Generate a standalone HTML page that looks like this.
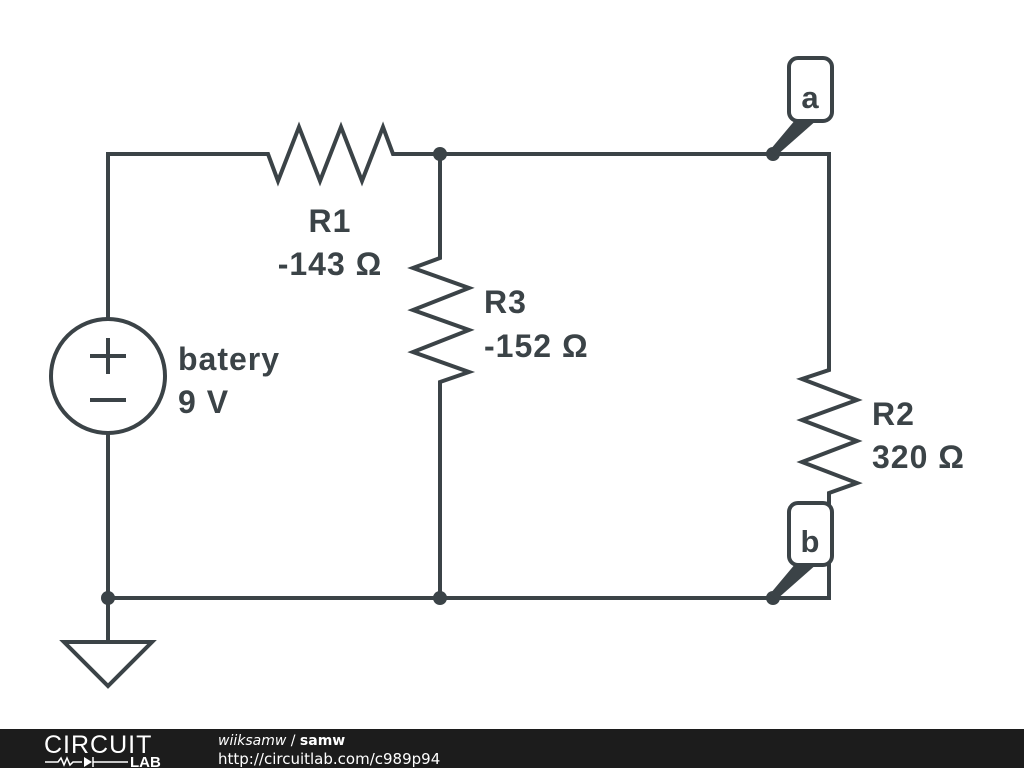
<!DOCTYPE html>
<html><head><style>
html,body{margin:0;padding:0;background:#fff;width:1024px;height:768px;overflow:hidden}
svg{display:block}
text{font-family:"Liberation Sans",sans-serif;font-weight:bold;fill:#3b4347}
.l{font-size:32px;letter-spacing:1px}
</style></head><body>
<svg width="1024" height="768" viewBox="0 0 1024 768">
<g stroke="#3b4347" stroke-width="4" fill="none" stroke-linejoin="miter">
<polyline points="108,318 108,154 268,154 278,181 299,127 320,181 341,127 362,181 383,127 393,154 829,154 829,370 802,379 857,400 802,420 857,441 802,462 857,483 829,493 829,598 108,598 108,434"/>
<polyline points="440,154 440,258 413,268 469,288 413,310 469,330 413,352 469,372 440,382 440,598"/>
<circle cx="108" cy="376" r="57"/>
<line x1="90" y1="356" x2="126" y2="356"/><line x1="108" y1="338" x2="108" y2="374"/>
<line x1="90" y1="400" x2="126" y2="400"/>
<polyline points="108,598 108,642"/>
<polygon points="64,642 152,642 108,686"/>
</g>
<g stroke="#3b4347" stroke-width="4" fill="#fff">
<rect x="789" y="58" width="43" height="63" rx="9"/>
<rect x="789" y="503" width="43" height="62" rx="9"/>
</g>
<g fill="#3b4347">
<circle cx="440" cy="154" r="7"/><circle cx="773" cy="154" r="7"/>
<circle cx="108" cy="598" r="7"/><circle cx="440" cy="598" r="7"/><circle cx="773" cy="598" r="7"/>
<polygon points="796,119 818,119 776,156 770,150"/>
<polygon points="796,563 818,563 776,600 770,594"/>
</g>
<text x="810" y="108" font-size="31" text-anchor="middle">a</text>
<text x="810" y="552" font-size="31" text-anchor="middle">b</text>
<text class="l" x="330" y="232" text-anchor="middle">R1</text>
<text class="l" x="330" y="275" text-anchor="middle">-143 Ω</text>
<text class="l" x="484" y="313">R3</text>
<text class="l" x="484" y="357">-152 Ω</text>
<text class="l" x="178" y="370">batery</text>
<text class="l" x="178" y="413">9 V</text>
<text class="l" x="872" y="425">R2</text>
<text class="l" x="872" y="468">320 Ω</text>
<rect x="0" y="729" width="1024" height="39" fill="#1c1c1c"/>
<text x="44" y="753" font-size="25" style="font-weight:normal;fill:#fff;letter-spacing:1px">CIRCUIT</text>
<polyline points="45,762 58,762 61,758 64,765 67,758 70,765 73,762 82,762" stroke="#fff" stroke-width="1.5" fill="none"/>
<polygon points="84,757 84,767 92,762" fill="#fff"/><line x1="93" y1="757" x2="93" y2="767" stroke="#fff" stroke-width="1.5"/>
<line x1="93" y1="762" x2="128" y2="762" stroke="#fff" stroke-width="1.5"/>
<text x="130" y="767" font-size="15" style="fill:#fff">LAB</text>
<text x="218" y="745" font-size="14" style="fill:#fff;font-weight:normal;font-style:italic;font-family:'DejaVu Sans',sans-serif">wiiksamw <tspan font-style="normal">/</tspan> <tspan font-weight="bold" font-style="normal">samw</tspan></text>
<text x="218" y="764" font-size="15" style="fill:#fff;font-weight:normal;font-family:'DejaVu Sans',sans-serif">http://circuitlab.com/c989p94</text>
</svg>
</body></html>
